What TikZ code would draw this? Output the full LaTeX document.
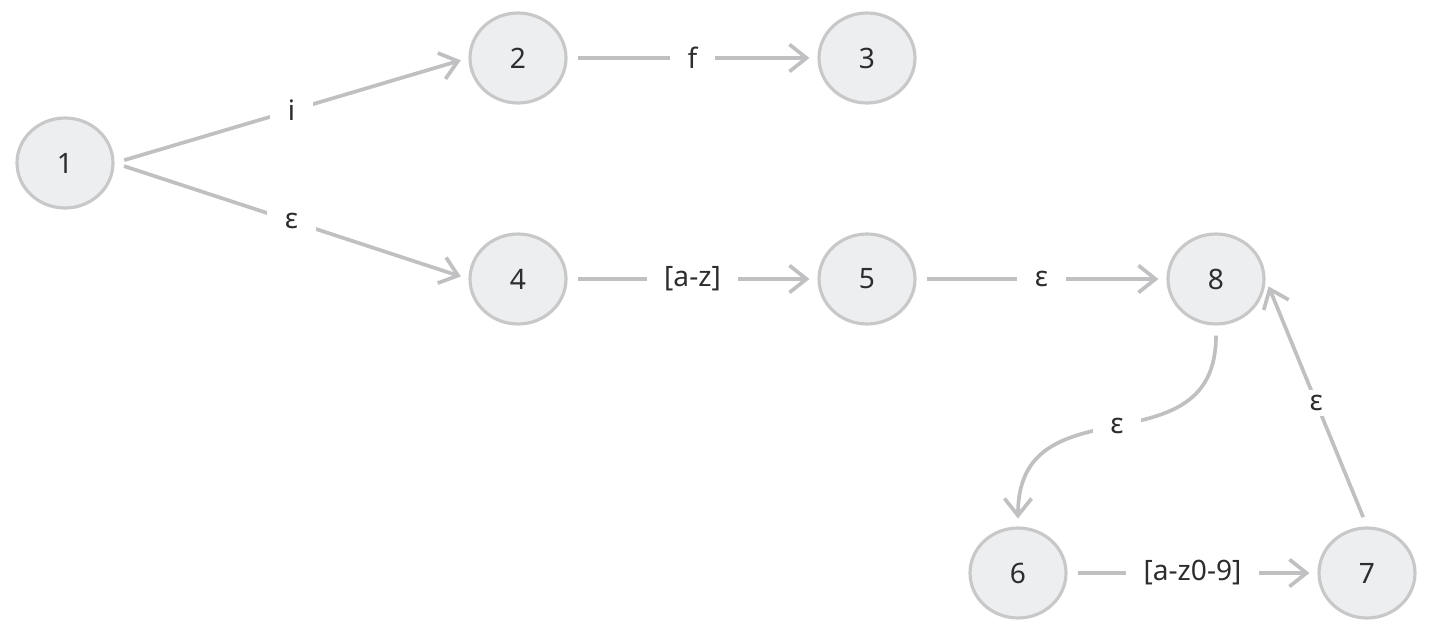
\documentclass[tikz,border=0pt]{standalone}
\usepackage{fontspec}
\setmainfont{Noto Sans}
\usetikzlibrary{
  arrows.meta,
  shapes.geometric
}
\definecolor{statefill}{RGB}{237, 238, 240}
\definecolor{statedraw}{RGB}{200, 200, 200}
\definecolor{edgecolor}{RGB}{192, 192, 194}
\definecolor{labelcolor}{RGB}{45, 45, 45}

\begin{document}
\begin{tikzpicture}[
    x=0.02cm, y=-0.02cm,
    state/.style={
      ellipse, draw=statedraw, line width=1.8pt, fill=statefill,
      minimum width=1.92cm, minimum height=1.8cm, inner sep=0pt,
      font=\fontsize{16}{19}\selectfont, text=labelcolor
    },
    arrow/.style={-{Straight Barb[length=3.4mm, width=5.4mm]}, line width=2.1pt,
      draw=edgecolor, shorten <=2mm, shorten >=1.6mm},
    edgelabel/.style={fill=white, inner xsep=3.5mm, inner ysep=1mm,
      font=\fontsize{16}{19}\selectfont, text=labelcolor},
  ]
  \useasboundingbox (0,0) rectangle (1440,639);

  % States
  \node[state] (s1) at (65,163) {1};
  \node[state] (s2) at (518,58) {2};
  \node[state] (s3) at (867,58) {3};
  \node[state] (s4) at (518,279) {4};
  \node[state] (s5) at (867,279) {5};
  \node[state] (s8) at (1216,279) {8};
  \node[state] (s6) at (1018,573) {6};
  \node[state] (s7) at (1367,573) {7};

  % Transitions
  \draw[arrow] (s1.east) -- node[edgelabel] {i} (s2.west);
  \draw[arrow] (s1.east) -- node[edgelabel] {ε} (s4.west);
  \draw[arrow] (s2) -- node[edgelabel] {f} (s3);
  \draw[arrow] (s4) -- node[edgelabel] {[a-z]} (s5);
  \draw[arrow] (s5) -- node[edgelabel] {ε} (s8);
  \draw[arrow] (s8.south) to[out=-90, in=90, looseness=1.35] node[edgelabel] {ε} (s6.north);
  \draw[arrow] (s6) -- node[edgelabel] {[a-z0-9]} (s7);
  \draw[arrow] (s7.north) -- node[edgelabel] {ε} (s8.east);
\end{tikzpicture}
\end{document}
